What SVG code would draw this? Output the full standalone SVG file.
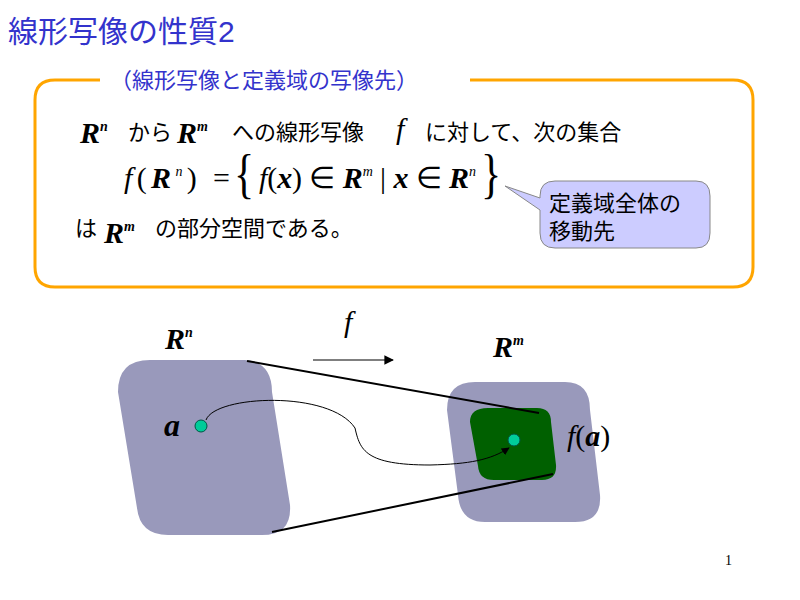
<svg xmlns="http://www.w3.org/2000/svg" width="800" height="600" viewBox="0 0 800 600">
<defs>
<style>
.jp{font-family:"Liberation Sans","Noto Sans CJK JP",sans-serif;font-size:22px;fill:#000}
.m{font-family:"Liberation Serif",serif;font-style:italic;fill:#000}
.b{font-weight:bold}
.sup{font-size:14px}
</style>
<marker id="ah" viewBox="0 0 10 10" refX="9" refY="5" markerWidth="8" markerHeight="8" orient="auto"><path d="M0,0 L10,5 L0,10 z" fill="#000"/></marker>
</defs>
<rect width="800" height="600" fill="#fff"/>
<text x="8" y="42" style="font-family:'Liberation Sans','Noto Sans CJK JP',sans-serif;font-size:30px;fill:#3333cc">線形写像の性質2</text>
<g id="box">
<path d="M100,80 L55,80 Q35,80 35,100 L35,267 Q35,287 55,287 L733,287 Q753,287 753,267 L753,100 Q753,80 733,80 L470,80" fill="none" stroke="#ffa500" stroke-width="3"/>
<text x="110" y="88" style="font-family:'Liberation Sans','Noto Sans CJK JP',sans-serif;font-size:22px;fill:#3333cc">（線形写像と定義域の写像先）</text>
</g>
<g id="text">
<text x="80" y="143" class="m b" font-size="30">R<tspan class="sup" dy="-12">n</tspan></text>
<text x="128" y="140" class="jp">から</text>
<text x="177" y="143" class="m b" font-size="30">R<tspan class="sup" dy="-12">m</tspan></text>
<text x="232" y="140" class="jp">への線形写像</text>
<text x="396" y="139" class="m" font-size="30">f</text>
<text x="425" y="140" class="jp">に対して、次の集合</text>
<text x="124" y="188" class="m" font-size="30" textLength="106" lengthAdjust="spacing">f<tspan font-style="normal">(</tspan><tspan class="b">R</tspan><tspan class="sup" dy="-12">n</tspan><tspan dy="12" font-style="normal">) =</tspan></text>
<text x="234" y="192" font-family="Liberation Serif,serif" font-size="42" transform="translate(234,192) scale(1,1.3) translate(-234,-192)">{</text>
<text x="259" y="188" class="m" font-size="30" textLength="217" lengthAdjust="spacing">f<tspan font-style="normal">(</tspan><tspan class="b">x</tspan><tspan font-style="normal">) ∈ </tspan><tspan class="b">R</tspan><tspan class="sup" dy="-12">m</tspan><tspan dy="12" font-style="normal"> | </tspan><tspan class="b">x</tspan><tspan font-style="normal"> ∈ </tspan><tspan class="b">R</tspan><tspan class="sup" dy="-12">n</tspan></text>
<text x="481" y="192" font-family="Liberation Serif,serif" font-size="42" transform="translate(481,192) scale(1,1.3) translate(-481,-192)">}</text>
<text x="75" y="236" class="jp">は</text>
<text x="104" y="243" class="m b" font-size="30">R<tspan class="sup" dy="-12">m</tspan></text>
<text x="155" y="236" class="jp">の部分空間である。</text>
</g>
<g id="callout">
<path d="M555,181 Q540,181 540,196 L540,198 L505,186 L540,210 L540,233 Q540,248 555,248 L696,248 Q710,248 710,233 L710,196 Q710,181 696,181 Z" fill="#ccccff" stroke="#888" stroke-width="1"/>
<text x="549" y="211" class="jp" font-size="21">定義域全体の</text>
<text x="549" y="239" class="jp" font-size="21">移動先</text>
</g>
<g id="Rn">
<path d="M150,360 L245,360 Q272,362 272,392 L290,505 Q292,535 262,535 L168,535 Q140,535 137,508 L118,392 Q118,360 150,360 Z" fill="#9999bb"/>
<text x="165" y="349" class="m b" font-size="30">R<tspan class="sup" dy="-12">n</tspan></text>
</g>
<g id="Rm">
<path d="M475,382 L565,382 Q590,382 590,410 L600,495 Q602,522 575,522 L485,522 Q460,522 458,495 L447,410 Q447,382 475,382 Z" fill="#9999bb"/>
<text x="493" y="357" class="m b" font-size="30">R<tspan class="sup" dy="-12">m</tspan></text>
</g>
<g id="image">
<path d="M488,408 L537,408 Q551,408 551,422 L556,465 Q557,480 542,480 L494,480 Q479,480 478,466 L470,422 Q470,408 488,408 Z" fill="#006000"/>
</g>
<g id="connectors">
<line x1="247" y1="361" x2="539" y2="413" stroke="#000" stroke-width="2"/>
<line x1="272" y1="532" x2="553" y2="474" stroke="#000" stroke-width="2"/>
<line x1="313" y1="360" x2="393" y2="360" stroke="#000" stroke-width="1.2" marker-end="url(#ah)"/>
<path d="M206,420 C215,395 330,390 355,428 C360,450 365,465 430,465 C470,464 490,460 509,448" fill="none" stroke="#000" stroke-width="1" marker-end="url(#ah)"/>
</g>
<g id="labels">
<text x="344" y="332" class="m" font-size="30">f</text>
<text x="164" y="436" class="m b" font-size="32">a</text>
<text x="567" y="446" class="m" font-size="30">f<tspan font-style="normal">(</tspan><tspan class="b">a</tspan><tspan font-style="normal">)</tspan></text>
</g>
<g id="points">
<circle cx="201" cy="426" r="6" fill="#00cc99" stroke="#005544" stroke-width="1"/>
<circle cx="514" cy="440" r="6" fill="#00cc99" stroke="#005544" stroke-width="1"/>
</g>
<text x="725" y="565" font-family="Liberation Serif,serif" font-size="14">1</text>
</svg>
